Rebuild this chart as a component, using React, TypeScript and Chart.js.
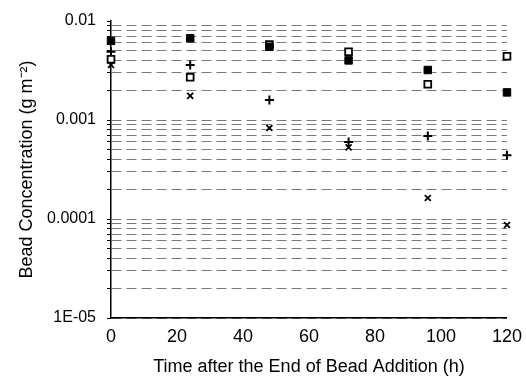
import React, { useEffect, useRef } from "react";
import { Chart, registerables } from "chart.js";

Chart.register(...registerables);

const times = [0, 24, 48, 72, 96, 120];
const filledSquares = [0.0063, 0.0067, 0.0055, 0.0040, 0.0032, 0.0019];
const openSquares = [0.0041, 0.0027, 0.0058, 0.0049, 0.0023, 0.0044];
const plusSeries = [0.0049, 0.0036, 0.00159, 0.0006, 0.00069, 0.00044];
const crossSeries = [0.0036, 0.00175, 0.00083, 0.00053, 0.000163, 0.000087];
const yDecadeLabels = ["1E-05", "0.0001", "0.001", "0.01"];
const xTicks = [0, 20, 40, 60, 80, 100, 120];

function pts(vals: number[]) {
  return vals.map((v, i) => ({ x: times[i], y: v }));
}

export default function App() {
  const ref = useRef<HTMLCanvasElement>(null);
  useEffect(() => {
    if (!ref.current) return;
    const font = "'Liberation Sans', Arial, sans-serif";
    const chart = new Chart(ref.current, {
      type: "scatter",
      data: {
        datasets: [
          {
            label: "filled",
            data: pts(filledSquares),
            pointStyle: "rect",
            pointRadius: 5.3,
            backgroundColor: "#000",
            borderColor: "#000",
            borderWidth: 1,
          },
          {
            label: "open",
            data: pts(openSquares),
            pointStyle: "rect",
            pointRadius: 4.8,
            backgroundColor: "#fff",
            borderColor: "#000",
            borderWidth: 1.8,
          },
          {
            label: "plus",
            data: pts(plusSeries),
            pointStyle: "cross",
            pointRadius: 4.5,
            backgroundColor: "#000",
            borderColor: "#000",
            borderWidth: 2,
          },
          {
            label: "x",
            data: pts(crossSeries),
            pointStyle: "crossRot",
            pointRadius: 4.2,
            backgroundColor: "#000",
            borderColor: "#000",
            borderWidth: 1.8,
          },
        ],
      },
      options: {
        animation: false,
        responsive: false,
        clip: false as any,
        layout: { padding: { top: 21, right: 16, left: 0, bottom: 0 } },
        plugins: { legend: { display: false }, tooltip: { enabled: false } },
        scales: {
          x: {
            type: "linear",
            min: 0,
            max: 120,
            afterBuildTicks: (s: any) => {
              s.ticks = xTicks.map((v) => ({ value: v }));
            },
            afterFit: (s: any) => {
              s.height = 61;
            },
            grid: { display: false, drawTicks: true, tickLength: 4, tickColor: "#000" },
            border: { color: "#000", width: 1.5 },
            ticks: {
              color: "#000",
              font: { family: font, size: 18 },
              padding: 4,
              maxRotation: 0,
            },
            title: {
              display: true,
              text: "Time after the End of Bead Addition (h)",
              color: "#000",
              font: { family: font, size: 18 },
              padding: { top: 0, bottom: 1 },
            },
          },
          y: {
            type: "logarithmic",
            min: 0.00001,
            max: 0.01,
            afterBuildTicks: (s: any) => {
              const t: any[] = [];
              for (let e = -5; e <= -2; e++) {
                for (let m = 1; m <= 9; m++) {
                  const v = m * Math.pow(10, e);
                  t.push({ value: v, major: m === 1 });
                  if (e === -2) break;
                }
              }
              s.ticks = t;
            },
            afterFit: (s: any) => {
              s.width = 111;
            },
            grid: {
              color: (ctx: any) =>
                ctx.tick && ctx.tick.value >= 0.0099 ? "rgba(0,0,0,0)" : "#7a7a7a",
              lineWidth: 1,
              drawTicks: true,
              tickLength: 4,
              tickColor: "#000",
            },
            border: { color: "#000", width: 1.5, dash: [10, 5] },
            ticks: {
              color: "#000",
              font: { family: font, size: 16 },
              padding: 11,
              autoSkip: false,
              callback: (v: any) => {
                const n = Number(v);
                const e = Math.round(Math.log10(n));
                if (Math.abs(n - Math.pow(10, e)) / n > 1e-6) return "";
                const idx = e + 5;
                return yDecadeLabels[idx] ?? "";
              },
            },
            title: {
              display: true,
              text: "Bead Concentration (g m⁻²)",
              color: "#000",
              font: { family: font, size: 18 },
              padding: { top: 16, bottom: 0 },
            },
          },
        },
      },
    });
    return () => chart.destroy();
  }, []);
  return (
    <div style={{ position: "absolute", left: 0, top: 0, width: 526, height: 379, background: "#fff" }}>
      <canvas ref={ref} width={526} height={379} style={{ width: 526, height: 379 }} />
    </div>
  );
}
